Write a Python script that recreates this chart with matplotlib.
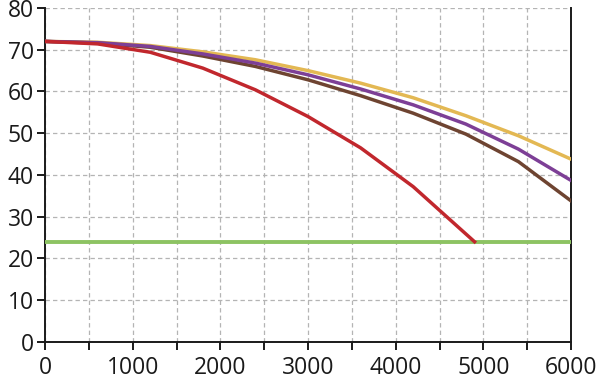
import matplotlib
matplotlib.use("Agg")
import matplotlib.pyplot as plt
from matplotlib.ticker import MultipleLocator

plt.rcParams['font.family'] = ['Open Sans', 'DejaVu Sans']

x = [0, 600, 1200, 1800, 2400, 3000, 3600, 4200, 4800, 5400, 6000]
gold = [72, 71.8, 71.0, 69.5, 67.6, 65.0, 62.0, 58.5, 54.2, 49.4, 43.8]
purple = [72, 71.7, 70.8, 69.0, 66.8, 64.0, 60.6, 56.8, 52.2, 46.2, 38.7]
brown = [72, 71.6, 70.6, 68.5, 66.0, 62.8, 59.0, 54.8, 49.8, 43.2, 33.8]
red_x = [0, 600, 1200, 1800, 2400, 3000, 3600, 4200, 4900]
red = [72, 71.4, 69.4, 65.6, 60.4, 54.0, 46.5, 37.2, 24.0]
green_x = [0, 6000]
green = [24, 24]

fig = plt.figure(figsize=(6, 3.81), dpi=100)
ax = fig.add_axes([0.075, 0.1024, 0.8767, 0.8766])

ax.plot(green_x, green, color='#8DC363', lw=2.8, solid_capstyle='butt', zorder=3)
ax.plot(x, gold, color='#E3B853', lw=2.5, zorder=4)
ax.plot(x, purple, color='#7D3F96', lw=2.5, zorder=5)
ax.plot(x, brown, color='#6E4431', lw=2.5, zorder=4)
ax.plot(red_x, red, color='#C1272D', lw=2.5, zorder=6)

ax.set_xlim(0, 6000)
ax.set_ylim(0, 80)
ax.xaxis.set_major_locator(MultipleLocator(1000))
ax.xaxis.set_minor_locator(MultipleLocator(500))
ax.yaxis.set_major_locator(MultipleLocator(10))

gl = dict(color='#B4B4B4', ls=(0, (3.5, 2.5)), lw=0.9)
ax.grid(True, which='both', axis='x', **gl)
ax.grid(True, which='major', axis='y', **gl)
ax.set_axisbelow(True)

ax.spines['top'].set_visible(False)
for s in ['left', 'bottom', 'right']:
    ax.spines[s].set_color('#1a1a1a')
    ax.spines[s].set_linewidth(1.4)

ax.tick_params(axis='both', which='both', direction='out', length=6, width=1.4,
               color='#1a1a1a', labelsize=16.5, labelcolor='#1a1a1a')
ax.tick_params(axis='y', which='both', right=False)
ax.tick_params(axis='x', pad=4)
ax.tick_params(axis='y', pad=2)

fig.savefig('out.png', dpi=100)
